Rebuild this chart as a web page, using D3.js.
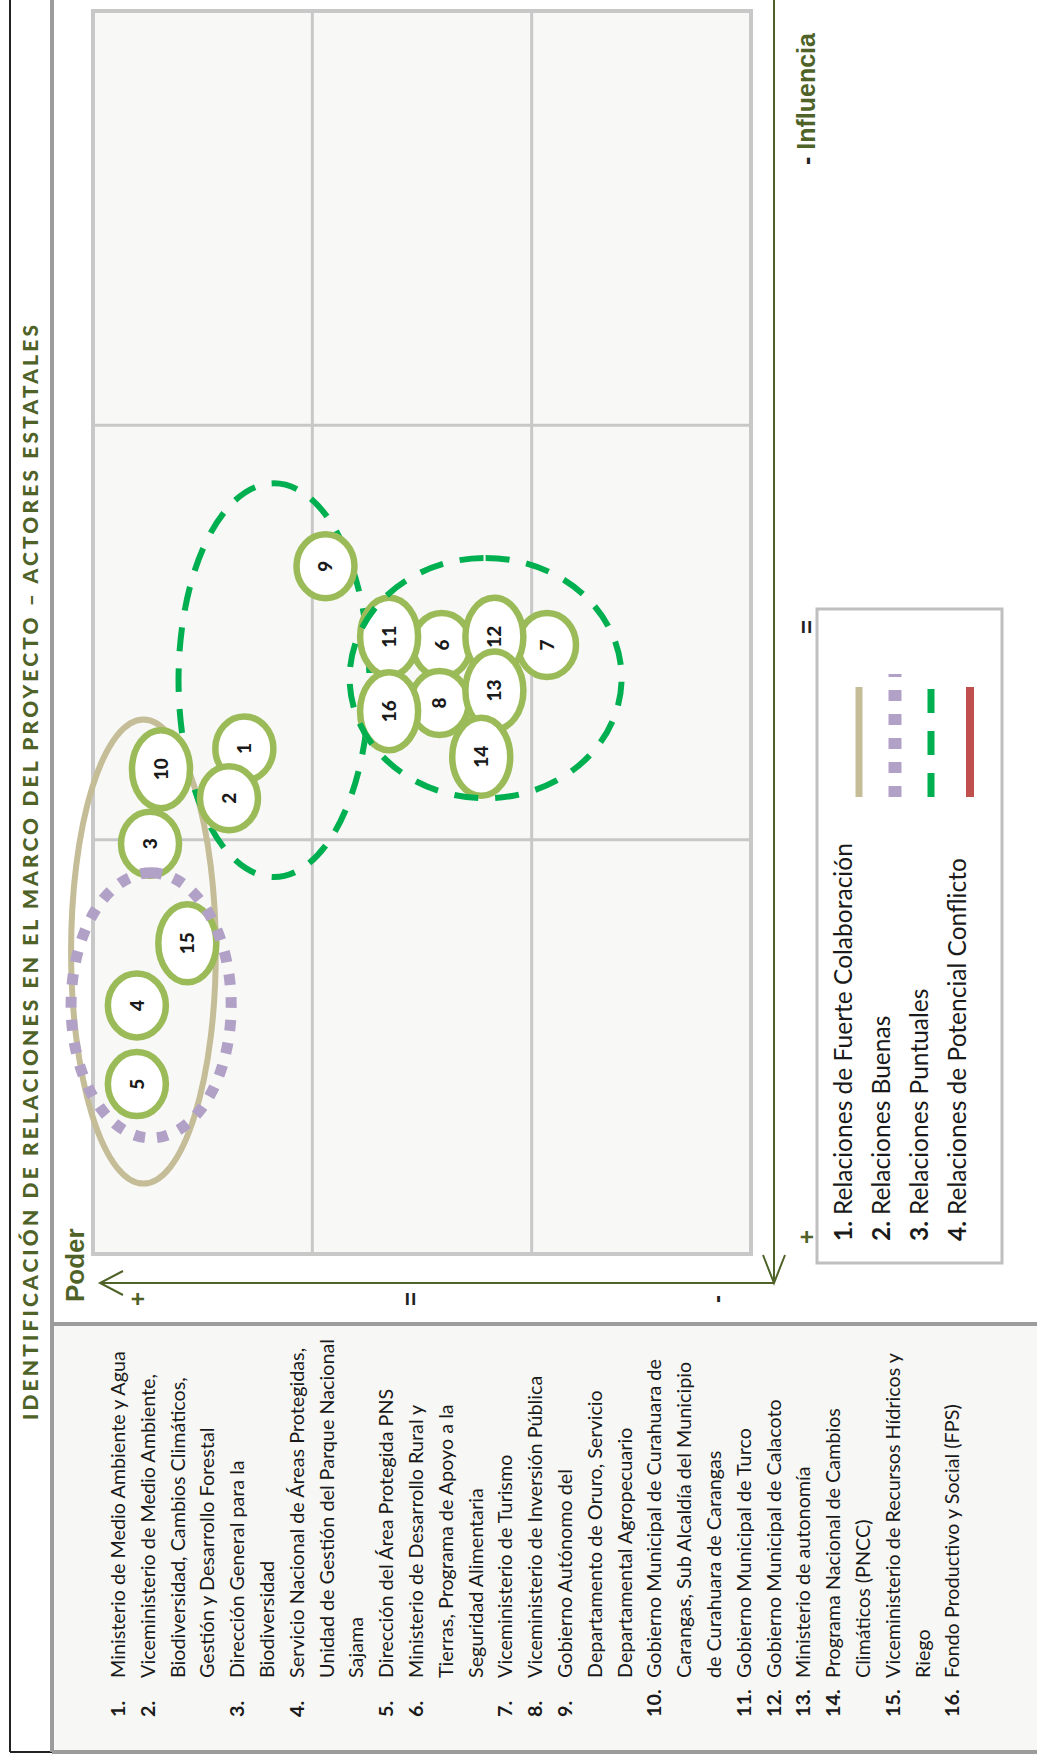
<!DOCTYPE html>
<html>
<head>
<meta charset="utf-8">
<script src="https://cdn.jsdelivr.net/npm/d3@7"></script>
<style>
body { margin: 0; background: #fff; }
svg { display: block; }
</style>
</head>
<body>
<div id="target"></div>
<script>
// actores: numero, influencia y poder en escala 0..3 (3 = "+")
let actorIds = [1, 2, 3, 4, 5, 6, 7, 8, 9, 10, 11, 12, 13, 14, 15, 16]
let influencia = [1.78, 1.90, 2.01, 2.40, 2.59, 1.53, 1.53, 1.67, 1.34, 1.83, 1.51, 1.51, 1.64, 1.80, 2.25, 1.69]
let poder = [2.31, 2.38, 2.74, 2.80, 2.80, 1.41, 0.93, 1.42, 1.94, 2.69, 1.65, 1.17, 1.17, 1.23, 2.57, 1.65]
let actorLines = [
    ["Ministerio de Medio Ambiente y Agua"],
    ["Viceministerio de Medio Ambiente,", "Biodiversidad, Cambios Climáticos,", "Gestión y Desarrollo Forestal"],
    ["Dirección General para la", "Biodiversidad"],
    ["Servicio Nacional de Áreas Protegidas,", "Unidad de Gestión del Parque Nacional", "Sajama"],
    ["Dirección del Área Protegida PNS"],
    ["Ministerio de Desarrollo Rural y", "Tierras, Programa de Apoyo a la", "Seguridad Alimentaria"],
    ["Viceministerio de Turismo"],
    ["Viceministerio de Inversión Pública"],
    ["Gobierno Autónomo del", "Departamento de Oruro, Servicio", "Departamental Agropecuario"],
    ["Gobierno Municipal de Curahuara de", "Carangas, Sub Alcaldía del Municipio", "de Curahuara de Carangas"],
    ["Gobierno Municipal de Turco"],
    ["Gobierno Municipal de Calacoto"],
    ["Ministerio de autonomía"],
    ["Programa Nacional de Cambios", "Climáticos (PNCC)"],
    ["Viceministerio de Recursos Hídricos y", "Riego"],
    ["Fondo Productivo y Social (FPS)"]
]
// tipos de relacion (leyenda)
let relTypes = ["Relaciones de Fuerte Colaboración", "Relaciones Buenas", "Relaciones Puntuales", "Relaciones de Potencial Conflicto"]
// grupos dibujados: tipo, rango de influencia, rango de poder
let groupType = [0, 1, 2, 2]
let groupInfl = [[1.71, 2.83], [2.08, 2.72], [1.14, 2.09], [1.32, 1.90]]
let groupPoder = [[2.44, 3.10], [2.37, 3.10], [1.74, 2.61], [0.59, 1.83]]
let gridTicks = [1, 2]
let axisMarks = ["+", "=", "-"]
let title = "IDENTIFICACIÓN DE RELACIONES EN EL MARCO DEL PROYECTO – ACTORES ESTATALES"

const W = 1037, H = 1760
const green = "#4f6228"
const relStyle = [
    { stroke: "#c4bd97", width: 6, dash: null },
    { stroke: "#b2a1c7", width: 11, dash: "11,12" },
    { stroke: "#00b050", width: 6, dash: "24,17" },
    { stroke: "#c0504d", width: 7, dash: null }
]

const svg = d3.select("#target").append("svg").attr("width", W).attr("height", H)
// the page is landscape, turned a quarter to the left
const g = svg.append("g").attr("transform", `translate(0,${H}) rotate(-90)`)

const x = d3.scaleLinear().domain([3, 0]).range([506, 1749])   // influencia
const y = d3.scaleLinear().domain([3, 0]).range([93, 751])     // poder

// frame and panels
g.append("rect").attr("x", 8).attr("y", 52).attr("width", 428).attr("height", 985)
    .attr("fill", "#f7f7f5")
g.append("line").attr("x1", 8).attr("x2", H).attr("y1", 10).attr("y2", 10)
    .attr("stroke", "#222").attr("stroke-width", 2)
g.append("line").attr("x1", 8).attr("x2", 8).attr("y1", 10).attr("y2", 52)
    .attr("stroke", "#222").attr("stroke-width", 2)
g.append("line").attr("x1", 8).attr("x2", H).attr("y1", 52).attr("y2", 52)
    .attr("stroke", "#9c9c9c").attr("stroke-width", 4)
g.append("line").attr("x1", 436).attr("x2", 436).attr("y1", 52).attr("y2", W)
    .attr("stroke", "#9c9c9c").attr("stroke-width", 4)
g.append("line").attr("x1", 8).attr("x2", 8).attr("y1", 52).attr("y2", W)
    .attr("stroke", "#9c9c9c").attr("stroke-width", 4)

// title
g.append("text").attr("x", 340).attr("y", 38)
    .attr("textLength", 1095).attr("lengthAdjust", "spacing")
    .attr("font-family", "Lato").attr("font-weight", 900).attr("font-size", 21)
    .attr("fill", green).text(title)

// grid
g.append("rect").attr("x", x(3)).attr("y", y(3))
    .attr("width", x(0) - x(3)).attr("height", y(0) - y(3))
    .attr("fill", "#f8f8f6").attr("stroke", "#c8c8c8").attr("stroke-width", 4)
g.selectAll(".vgrid").data(gridTicks).enter().append("line").attr("class", "vgrid")
    .attr("x1", d => x(d)).attr("x2", d => x(d)).attr("y1", y(3)).attr("y2", y(0))
    .attr("stroke", "#c8c8c8").attr("stroke-width", 3)
g.selectAll(".hgrid").data(gridTicks).enter().append("line").attr("class", "hgrid")
    .attr("x1", x(3)).attr("x2", x(0)).attr("y1", d => y(d)).attr("y2", d => y(d))
    .attr("stroke", "#c8c8c8").attr("stroke-width", 3)

// axes
const ox = 477, oy = 774
const axes = g.append("g").attr("stroke", green).attr("stroke-width", 2).attr("fill", "none")
axes.append("line").attr("x1", ox).attr("x2", ox).attr("y1", oy).attr("y2", 100)
axes.append("path").attr("d", `M${ox - 12},123 L${ox},100 L${ox + 12},123`)
axes.append("line").attr("x1", ox).attr("x2", H).attr("y1", oy).attr("y2", oy)
axes.append("path").attr("d", `M${ox + 28},${oy - 11} L${ox},${oy} L${ox + 28},${oy + 11}`)

g.append("text").attr("x", 458).attr("y", 84)
    .attr("font-family", "Liberation Sans").attr("font-weight", "bold").attr("font-size", 26)
    .attr("fill", green).text("Poder")

const markY = [138, 411, 717]
g.selectAll(".pmark").data(axisMarks).enter().append("text").attr("class", "pmark")
    .attr("x", 461).attr("y", (d, i) => markY[i] + 8)
    .attr("text-anchor", "middle").attr("font-family", "Liberation Sans").attr("font-weight", "bold")
    .attr("font-size", 24).attr("fill", (d, i) => i == 0 ? green : "#222").text(d => d)

const markX = [523, 1133]
g.selectAll(".imark").data(axisMarks.slice(0, 2)).enter().append("text").attr("class", "imark")
    .attr("x", (d, i) => markX[i]).attr("y", 815)
    .attr("text-anchor", "middle").attr("font-family", "Liberation Sans").attr("font-weight", "bold")
    .attr("font-size", 24).attr("fill", (d, i) => i == 0 ? green : "#222").text(d => d)
const infl = g.append("text").attr("x", 1595).attr("y", 815)
    .attr("font-family", "Liberation Sans").attr("font-weight", "bold").attr("font-size", 25)
infl.append("tspan").attr("fill", "#222").text(axisMarks[2] + " ")
infl.append("tspan").attr("fill", green).text("Influencia")

// relation groups
let groups = groupType.map((t, i) => ({ type: t, infl: groupInfl[i], poder: groupPoder[i] }))
let drawGroups = (sel) => {
    sel.append("ellipse")
        .attr("cx", d => (x(d.infl[0]) + x(d.infl[1])) / 2)
        .attr("cy", d => (y(d.poder[0]) + y(d.poder[1])) / 2)
        .attr("rx", d => Math.abs(x(d.infl[0]) - x(d.infl[1])) / 2)
        .attr("ry", d => Math.abs(y(d.poder[0]) - y(d.poder[1])) / 2)
        .attr("fill", "none")
        .attr("stroke", d => relStyle[d.type].stroke)
        .attr("stroke-width", d => relStyle[d.type].width)
        .attr("stroke-dasharray", d => relStyle[d.type].dash)
}
// tan and big green sit behind the actors
drawGroups(g.append("g").selectAll("g").data([groups[0], groups[2]]).enter())

// actors
let actors = actorIds.map((id, i) => ({ id: id, infl: influencia[i], poder: poder[i] }))
let bub = g.append("g").selectAll("g").data(actors).enter().append("g")
    .attr("transform", d => `translate(${x(d.infl)},${y(d.poder)})`)
bub.append("ellipse").attr("rx", d => String(d.id).length > 1 ? 39 : 32).attr("ry", 29)
    .attr("fill", "#fff").attr("stroke", "#9bbb59").attr("stroke-width", 6.5)
bub.append("text").attr("text-anchor", "middle").attr("dy", "0.36em")
    .attr("font-family", "Lato").attr("font-weight", 900).attr("font-size", 19)
    .attr("fill", "#1a1a1a").text(d => d.id)

drawGroups(g.append("g").selectAll("g").data([groups[1], groups[3]]).enter())

// legend
g.append("rect").attr("x", 497).attr("y", 817).attr("width", 654).attr("height", 185)
    .attr("fill", "#fff").attr("stroke", "#bfbfbf").attr("stroke-width", 3)
let leg = g.append("g").selectAll("g").data(relTypes).enter().append("g")
    .attr("transform", (d, i) => `translate(519,${852 + 38 * i})`)
let legText = leg.append("text").attr("font-family", "Lato").attr("font-size", 20).attr("fill", "#1a1a1a")
legText.append("tspan").attr("font-weight", "bold").text((d, i) => (i + 1) + ". ")
legText.append("tspan").text(d => d)
let l0 = legText.node().getComputedTextLength()
legText.attr("font-size", 20 * 398 / l0)
leg.append("line").attr("x1", 444).attr("x2", (d, i) => i == 1 ? 567 : 554)
    .attr("y1", (d, i) => [7, 5, 3, 4][i]).attr("y2", (d, i) => [7, 5, 3, 4][i])
    .attr("stroke", (d, i) => relStyle[i].stroke)
    .attr("stroke-width", (d, i) => i == 1 ? 13 : relStyle[i].width + 1)
    .attr("stroke-dasharray", (d, i) => i == 1 ? "11,13" : i == 2 ? "24,18" : null)

// actor list
let rows = []
actorLines.forEach((lines, i) => {
    lines.forEach((t, j) => rows.push({ id: actorIds[i], text: t, first: j == 0 }))
})
const list = g.append("g").attr("font-family", "Lato").attr("fill", "#1a1a1a")
let rowSel = list.selectAll("g").data(rows).enter().append("g")
    .attr("transform", (d, i) => `translate(0,${125 + 29.8 * i})`)
rowSel.filter(d => d.first).append("text").attr("x", 43).attr("font-weight", "bold")
    .attr("class", "ltxt").text(d => d.id + ".")
rowSel.append("text").attr("x", 82).attr("class", "ltxt").text(d => d.text)
list.selectAll(".ltxt").attr("font-size", 18)
let r0 = rowSel.select("text:last-child").node().getComputedTextLength()
list.selectAll(".ltxt").attr("font-size", 18 * 327 / r0)
</script>
</body>
</html>
